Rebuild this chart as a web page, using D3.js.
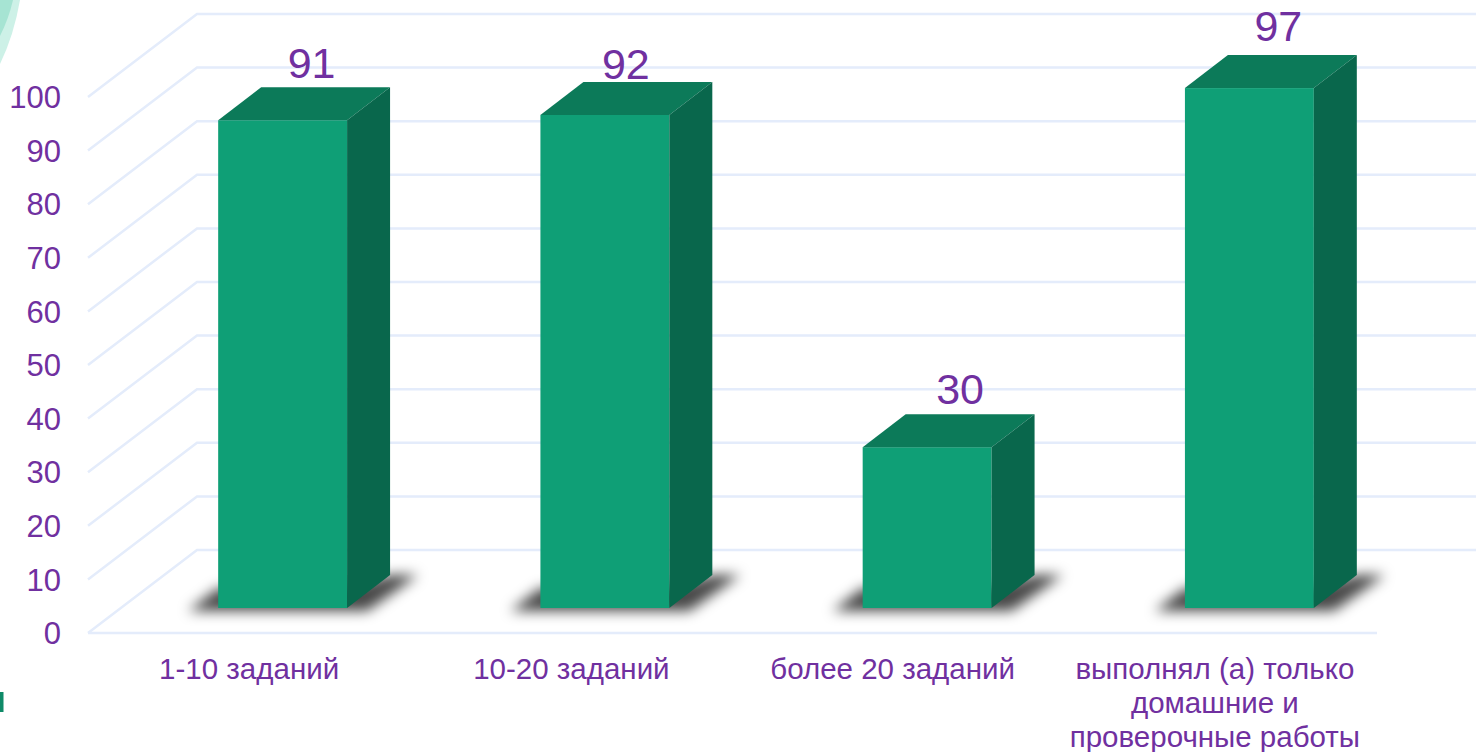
<!DOCTYPE html>
<html><head><meta charset="utf-8">
<script src="https://cdnjs.cloudflare.com/ajax/libs/d3/7.8.5/d3.min.js"></script>
<style>html,body{margin:0;padding:0;background:#fff;overflow:hidden}svg{display:block}text{font-family:"Liberation Sans",Arial,sans-serif;fill:#7030a0}</style>
</head><body><svg id="c" width="1476" height="752"></svg>
<script>
const categories=[["1-10 заданий"],["10-20 заданий"],["более 20 заданий"],["выполнял (а) только","домашние и","проверочные работы"]];
const values=[91,92,30,97];
const ticks=[0,10,20,30,40,50,60,70,80,90,100];
const svg=d3.select("#c");
const W=1476;
const y=d3.scaleLinear().domain([0,100]).range([633,97]);
const x=d3.scaleBand().domain(d3.range(categories.length)).range([88,1377]).paddingInner(0.6).paddingOuter(0.3);
const wall={dx:109,dy:-83}, barD={dx:43,dy:-33}, barShift=33.5;
const labelNudge=[{x:29,y:-42},{x:21,y:-36},{x:33,y:-43},{x:29,y:-47}];
const defs=svg.append("defs");
defs.append("filter").attr("id","blur").attr("filterUnits","userSpaceOnUse").attr("x",-100).attr("y",-100).attr("width",500).attr("height",200)
 .append("feGaussianBlur").attr("stdDeviation",6.5);
svg.append("path").attr("d","M0,64 Q14,35 20,0 L0,0Z").attr("fill","#cdf1e7");
svg.append("path").attr("d","M0,36 Q9,18 13,0 L0,0Z").attr("fill","#a6e4d3");
svg.append("rect").attr("x",0).attr("y",692).attr("width",3.5).attr("height",20).attr("fill","#0f8a68");
const g=svg.append("g").attr("fill","none").attr("stroke","#e4ecfb").attr("stroke-width",2.5);
ticks.forEach(t=>{
 g.append("path").attr("d",`M88,${y(t)}L${88+wall.dx},${y(t)+wall.dy}L${W},${y(t)+wall.dy}`);
});
g.append("path").attr("d",`M88,${y(0)}L1377,${y(0)}`);
svg.append("g").selectAll("text").data(ticks).join("text")
 .attr("x",61).attr("y",d=>y(d)).attr("dy","0.36em").attr("text-anchor","end").attr("font-size",31).text(d=>d);
const h=v=>y(0)-y(v);
const w=x.bandwidth();
const b=svg.append("g").selectAll("g").data(values).join("g").attr("transform",(d,i)=>`translate(${x(i)+barShift},608)`);
b.append("path").attr("filter","url(#blur)").attr("fill","#000").attr("fill-opacity",.72)
 .attr("d",`M-30,3L0,-20L${w},-20L${w+barD.dx},${barD.dy}L${w+barD.dx+28},${barD.dy}L${w+20},3Z`);
b.append("rect").attr("x",0).attr("y",d=>-h(d)).attr("width",w).attr("height",d=>h(d)).attr("fill","#0f9f76");
b.append("path").attr("fill","#0c7a59").attr("d",d=>`M0,${-h(d)}L${barD.dx},${-h(d)+barD.dy}L${w+barD.dx},${-h(d)+barD.dy}L${w},${-h(d)}Z`);
b.append("path").attr("fill","#09674c").attr("d",d=>`M${w},${-h(d)}L${w+barD.dx},${-h(d)+barD.dy}L${w+barD.dx},${barD.dy}L${w},0Z`);
b.append("text").attr("x",(d,i)=>w/2+labelNudge[i].x).attr("y",(d,i)=>-h(d)+labelNudge[i].y).attr("text-anchor","middle").attr("font-size",43).text(d=>d);
const cl=svg.append("g").selectAll("text").data(categories).join("text").attr("text-anchor","middle").attr("font-size",29.5);
cl.each(function(lines,i){
 d3.select(this).selectAll("tspan").data(lines).join("tspan").attr("x",x(i)+w/2-(i>=2?1:0)).attr("y",(d,j)=>679+j*34).text(d=>d);
});
</script></body></html>
